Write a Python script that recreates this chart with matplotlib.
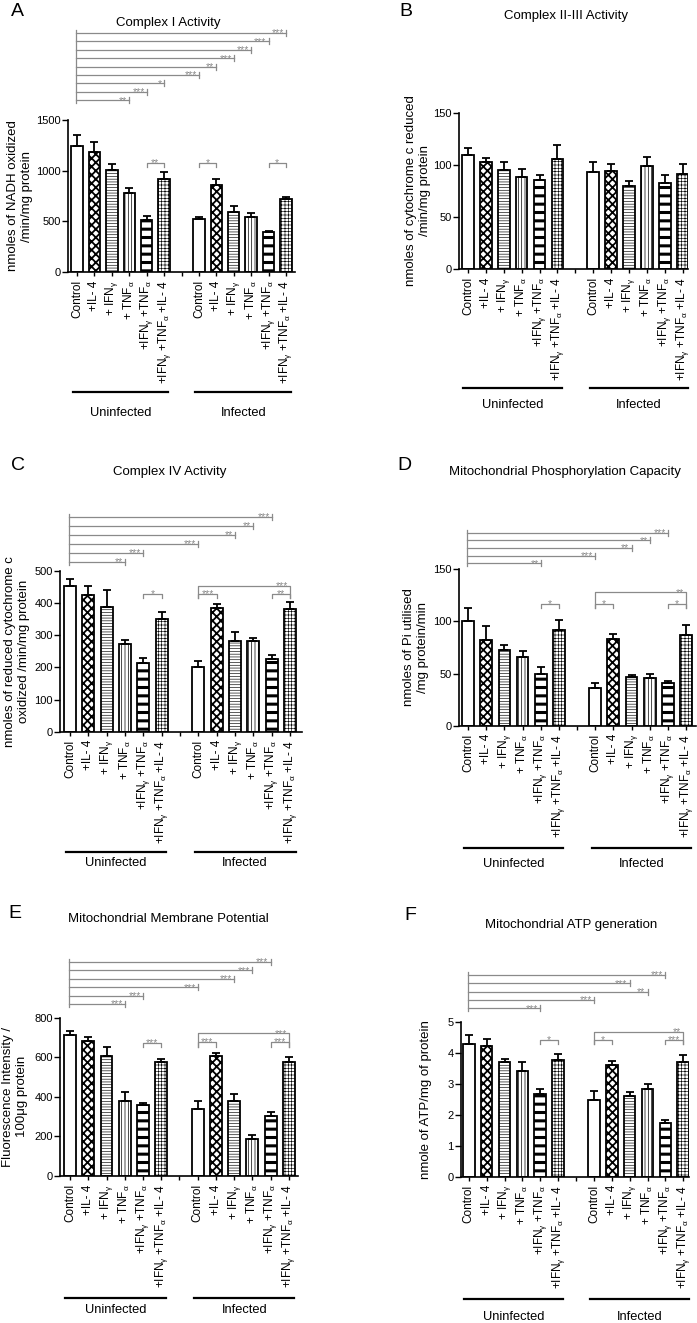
import numpy as np
import matplotlib
matplotlib.use('Agg')
import matplotlib.pyplot as plt
from matplotlib.transforms import blended_transform_factory, offset_copy

plt.rcParams['font.family'] = ['Liberation Sans', 'DejaVu Sans']
plt.rcParams['mathtext.fontset'] = 'custom'
plt.rcParams['mathtext.rm'] = 'Liberation Sans'
plt.rcParams['mathtext.it'] = 'Liberation Sans:italic'

# ---- data ----
groups = ['Uninfected', 'Infected']
treatments = ['Control', '+IL- 4', r'+ IFN$_{\mathrm{\gamma}}$', r'+ TNF$_{\mathrm{\alpha}}$',
              r'+IFN$_{\mathrm{\gamma}}$ +TNF$_{\mathrm{\alpha}}$',
              r'+IFN$_{\mathrm{\gamma}}$ +TNF$_{\mathrm{\alpha}}$ +IL- 4']

a_mean = [1243, 1181, 1007, 783, 513, 918, 520, 858, 589, 546, 391, 720]
a_err = [110, 105, 60, 43, 40, 66, 26, 57, 66, 33, 17, 23]
b_mean = [110, 103, 95.5, 88.5, 85.3, 106, 93.6, 94.6, 79.5, 99.4, 82.7, 91.7]
b_err = [6, 4, 7, 7.5, 5.5, 13, 9, 6.4, 5.5, 8, 7.3, 9.3]
c_mean = [452, 426, 387, 273, 215, 351, 200, 384, 283, 281, 225, 381]
c_err = [23, 26, 55, 12, 13, 20, 21, 13, 27, 12, 14, 21]
d_mean = [100, 82, 73, 65.5, 50, 92, 36.4, 83.4, 46.3, 46, 40.6, 87]
d_err = [13, 14, 4, 6, 6, 9, 4.6, 5, 2, 3.5, 2.6, 10]
e_mean = [712, 683, 606, 379, 357, 578, 340, 608, 380, 186, 305, 578]
e_err = [20, 20, 44, 45, 13, 14, 37, 13, 34, 22, 17, 22]
f_mean = [4.28, 4.23, 3.71, 3.41, 2.66, 3.78, 2.49, 3.61, 2.61, 2.83, 1.72, 3.69]
f_err = [0.30, 0.21, 0.09, 0.28, 0.17, 0.19, 0.26, 0.12, 0.11, 0.17, 0.12, 0.22]

# comparisons against uninfected control (bar 0), top to bottom
a_vs_ctrl = [(12, '***'), (11, '***'), (10, '***'), (9, '***'), (8, '**'), (7, '***'), (5, '*'), (4, '***'), (3, '**')]
c_vs_ctrl = [(11, '***'), (10, '**'), (9, '**'), (7, '***'), (4, '***'), (3, '**')]
d_vs_ctrl = [(11, '***'), (10, '**'), (9, '**'), (7, '***'), (4, '**')]
e_vs_ctrl = [(11, '***'), (10, '***'), (9, '***'), (7, '***'), (4, '***'), (3, '***')]
f_vs_ctrl = [(11, '***'), (9, '***'), (10, '**'), (7, '***'), (4, '***')]

# pairwise comparisons (bar i, bar j, stars)
a_pairs = [(4, 5, '**'), (7, 8, '*'), (11, 12, '*')]
c_pairs = [(4, 5, '*'), (7, 8, '***'), (7, 12, '***'), (11, 12, '**')]
d_pairs = [(4, 5, '*'), (7, 8, '*'), (7, 12, '**'), (11, 12, '*')]
e_pairs = [(4, 5, '***'), (7, 8, '***'), (7, 12, '***'), (11, 12, '***')]
f_pairs = [(4, 5, '*'), (7, 8, '*'), (7, 12, '**'), (11, 12, '***')]

xpos = np.r_[np.arange(6), np.arange(7, 13)]
hatches = [None, 'xxxx', '------', '|||||', '--', '+++++']
hatch_lw = [0.5, 1.3, 0.45, 0.5, 2.2, 0.45]

W, H = 697, 1323
fig = plt.figure(figsize=(W / 100, H / 100), dpi=100)
grey = '#8a8a8a'


def fy(py):
    return 1 - py / H


def panel(box, means, errs, xlim, ylim, yticks, ylabel, labx, title, tpos, letter, lpos,
          gline, glabel, vs_ctrl=None, vs_top=0, vs_step=8, pairs=None, pair_y=None):
    l, r, t, b = box
    ax = fig.add_axes([l / W, 1 - b / H, (r - l) / W, (b - t) / H])
    for k, (x, m) in enumerate(zip(xpos, means)):
        st = k % 6
        with plt.rc_context({'hatch.linewidth': hatch_lw[st]}):
            bars = ax.bar(x, m, width=0.65, color='white', edgecolor='black',
                          linewidth=1.3, hatch=hatches[st], zorder=2)
        for p in bars:
            if hasattr(p, 'set_hatch_linewidth'):
                p.set_hatch_linewidth(hatch_lw[st])
    ax.errorbar(xpos, means, yerr=[np.zeros(len(means)), errs], fmt='none', ecolor='black',
                elinewidth=1.3, capsize=3, capthick=1.3, zorder=3)

    ax.spines[['top', 'right']].set_visible(False)
    for s in ['left', 'bottom']:
        ax.spines[s].set_linewidth(1.2)
    ax.set_xticks(np.arange(13))
    ax.set_xticklabels(treatments + [''] + treatments, rotation=90, fontsize=8.5)
    ax.tick_params(axis='x', length=3, width=1, pad=3)
    ax.set_yticks(yticks)
    ax.tick_params(axis='y', length=4, width=1, labelsize=8, pad=1)
    ax.set_ylabel(ylabel, fontsize=9.5, va='center')
    ax.yaxis.set_label_coords(labx, 0.5)

    fig.text(tpos[0] / W, fy(tpos[1]), title, ha='center', va='center', fontsize=9.5)
    fig.text(lpos[0] / W, fy(lpos[1]), letter, ha='center', va='center', fontsize=14)

    tr = blended_transform_factory(ax.transData, fig.transFigure)
    for (x0, x1), name in zip([(-0.25, 5.25), (6.8, 12.3)], groups):
        ax.plot([x0, x1], [fy(gline)] * 2, transform=tr, color='black', lw=1.6, clip_on=False)
        ax.text((x0 + x1) / 2, fy(glabel), name, transform=tr, ha='center', va='center', fontsize=9.3)

    star_tr = offset_copy(tr, fig=fig, x=-2, y=-3.5, units='dots')
    star_c = offset_copy(tr, fig=fig, x=0, y=-3.5, units='dots')
    if vs_ctrl:
        n = len(vs_ctrl)
        ys = [vs_top + i * vs_step for i in range(n)]
        ax.plot([-0.05, -0.05], [fy(ys[0] - 3), fy(ys[-1] + 3)], transform=tr, color=grey, lw=0.9, clip_on=False)
        for (j, stars), y in zip(vs_ctrl, ys):
            ax.plot([-0.05, j], [fy(y)] * 2, transform=tr, color=grey, lw=0.9, clip_on=False)
            ax.plot([j, j], [fy(y - 3), fy(y + 3)], transform=tr, color=grey, lw=0.9, clip_on=False)
            ax.text(j, fy(y), stars, transform=star_tr, ha='right', va='baseline', fontsize=7.5, color=grey)
    if pairs:
        for (i, j, stars), y in zip(pairs, pair_y):
            low = max(pair_y) + 4
            ax.plot([i, i, j, j], [fy(low), fy(y), fy(y), fy(low)], transform=tr, color=grey, lw=0.9, clip_on=False)
            if j - i > 2:
                ax.text(j, fy(y), stars, transform=star_tr, ha='right', va='baseline', fontsize=7.5, color=grey)
            else:
                ax.text((i + j) / 2, fy(y), stars, transform=star_c, ha='center', va='baseline', fontsize=7.5, color=grey)

    ax.set_xlim(*xlim)
    ax.set_ylim(*ylim)
    return ax


panel((68, 295, 120, 272), a_mean, a_err, (-0.52, 12.52), (0, 1500), [0, 500, 1000, 1500],
      'nmoles of NADH oxidized\n/min/mg protein', -0.21, 'Complex I Activity', (168, 23), 'A', (17, 12),
      392, 413, a_vs_ctrl, 33, 8.4, a_pairs, [163, 163, 163])

panel((459, 688, 113, 269), b_mean, b_err, (-0.5, 12.3), (0, 150), [0, 50, 100, 150],
      'nmoles of cytochrome c reduced\n/min/mg protein', -0.18, 'Complex II-III Activity', (566, 16), 'B', (406, 11),
      388, 405)

panel((60, 302, 571, 731.7), c_mean, c_err, (-0.55, 12.65), (0, 500), [0, 100, 200, 300, 400, 500],
      'nmoles of reduced cytochrome c\noxidized /min/mg protein', -0.178, 'Complex IV Activity', (170, 472), 'C', (18, 465),
      852, 863, c_vs_ctrl, 516.7, 9.0, c_pairs, [594, 594, 585.7, 594])

panel((459, 696, 569.3, 725.7), d_mean, d_err, (-0.5, 12.55), (0, 150), [0, 50, 100, 150],
      'nmoles of Pi utilised\n/mg protein/min', -0.183, 'Mitochondrial Phosphorylation Capacity', (565, 472), 'D', (404, 466),
      848, 864, d_vs_ctrl, 532.7, 7.65, d_pairs, [604, 604, 592.3, 604])

panel((60, 298, 1017.7, 1176), e_mean, e_err, (-0.55, 12.5), (0, 800), [0, 200, 400, 600, 800],
      'Fluorescence Intensity /\n100μg protein', -0.19, 'Mitochondrial Membrane Potential', (168, 919), 'E', (15, 914),
      1297.7, 1310, e_vs_ctrl, 961.7, 8.46, e_pairs, [1043, 1041.7, 1033.3, 1041.7])

panel((460.7, 689, 1021.7, 1176.7), f_mean, f_err, (-0.45, 12.32), (0, 5), [0, 1, 2, 3, 4, 5],
      'nmole of ATP/mg of protein', -0.152, 'Mitochondrial ATP generation', (571, 925), 'F', (410, 915),
      1299.3, 1316.7, f_vs_ctrl, 975, 8.33, f_pairs, [1040, 1040, 1031.7, 1040])

fig.savefig('out.png', dpi=100)
